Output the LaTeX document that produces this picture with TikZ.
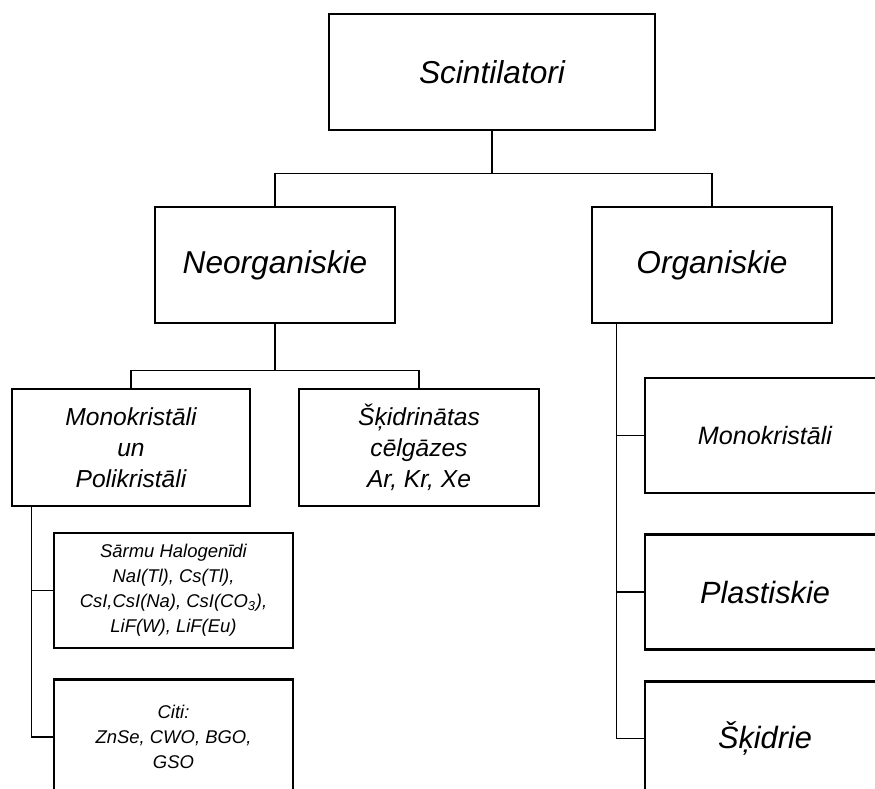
\documentclass[tikz,border=0pt]{standalone}
\usepackage{fontspec}
\setmainfont{Liberation Sans}
\usepackage{tikz}
\usetikzlibrary{positioning, calc}
\tikzset{
    catbox/.style={
        rectangle,
        draw=black,
        line width=1.5pt,
        fill=white,
        align=center,
        inner sep=0pt,
        minimum width=4.8cm,
        minimum height=2.32cm,
        font=\fontsize{18}{22}\selectfont\itshape
    },
    rootbox/.style={
        catbox,
        minimum width=6.52cm
    },
    midbox/.style={
        catbox,
        minimum height=2.34cm,
        font=\fontsize{14}{17.5}\selectfont\itshape
    },
    smallbox/.style={
        catbox,
        minimum width=4.78cm,
        minimum height=2.3cm,
        font=\fontsize{10.5}{14.2}\selectfont\itshape
    },
    sidebox/.style={
        catbox,
        minimum height=2.3cm,
        font=\fontsize{17.5}{21}\selectfont\itshape
    },
    link/.style={
        draw=black,
        line width=0.75pt
    }
}
\begin{document}
\begin{tikzpicture}

\clip (0,0) rectangle (17.5,-15.76);

% Levels 1 and 2
\node[rootbox] (scint) at (9.84,-1.44) {Scintilatori};
\node[catbox] (neorg) at (5.5,-5.3) {Neorganiskie};
\node[catbox] (org) at (14.24,-5.3) {Organiskie};

% Inorganic branch
\node[midbox, minimum width=4.76cm] (mono) at (2.62,-8.95) {Monokristāli\\un\\Polikristāli};
\node[midbox] (gas) at (8.38,-8.95) {Šķidrinātas\\cēlgāzes\\Ar, Kr, Xe};
\node[smallbox] (alkali) at (3.47,-11.81) {Sārmu Halogenīdi\\NaI(Tl), Cs(Tl),\\CsI,CsI(Na), CsI(CO\textsubscript{3}),\\LiF(W), LiF(Eu)};
\node[smallbox, below=0.58cm of alkali] (other) {Citi:\\ZnSe, CWO, BGO,\\GSO};

% Organic branch
\node[sidebox, font=\fontsize{14.3}{17}\selectfont\itshape] (omono) at (15.3,-8.71) {Monokristāli};
\node[sidebox, below=0.78cm of omono] (plast) {Plastiskie};
\node[sidebox, below=0.58cm of plast] (liquid) {Šķidrie};

% Connectors
\draw[link] (scint.south) -- ++(0,-0.84) -| (neorg.north);
\draw[link] (scint.south) -- ++(0,-0.84) -| (org.north);
\draw[link] (neorg.south) -- ++(0,-0.92) -| (mono.north);
\draw[link] (neorg.south) -- ++(0,-0.92) -| (gas.north);
\draw[link] ([xshift=0.42cm]mono.south west) |- (alkali.west);
\draw[link] ([xshift=0.42cm]mono.south west) |- (other.west);
\draw[link] ([xshift=0.52cm]org.south west) |- (omono.west);
\draw[link] ([xshift=0.52cm]org.south west) |- (plast.west);
\draw[link] ([xshift=0.52cm]org.south west) |- (liquid.west);

\end{tikzpicture}
\end{document}
